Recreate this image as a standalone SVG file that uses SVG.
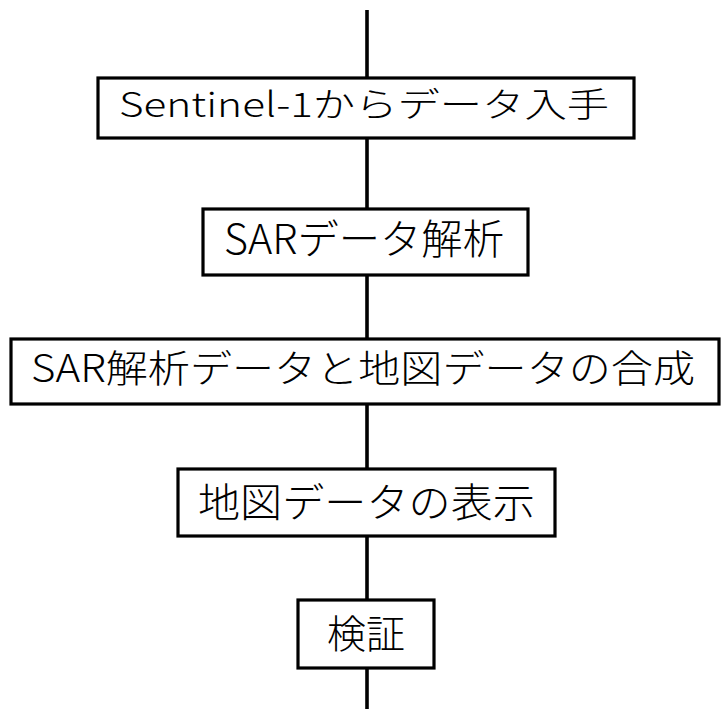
<svg xmlns="http://www.w3.org/2000/svg" width="722" height="709" viewBox="0 0 722 709">
<style>
.box{fill:#fff;stroke:#000;stroke-width:3.2}
.ln{stroke:#000;stroke-width:3.6;fill:none}
text{font-family:"Noto Sans CJK JP","Noto Sans",sans-serif;font-weight:300;fill:#000;text-anchor:middle}
</style>
<rect width="722" height="709" fill="#fff"/>
<g id="connectors">
<line class="ln" x1="367" y1="10" x2="367" y2="78"/>
<line class="ln" x1="367" y1="138" x2="367" y2="209"/>
<line class="ln" x1="367" y1="275" x2="367" y2="339"/>
<line class="ln" x1="367" y1="404" x2="367" y2="469"/>
<line class="ln" x1="367" y1="536" x2="367" y2="600"/>
<line class="ln" x1="367" y1="668" x2="367" y2="709"/>
</g>
<g id="n1"><rect class="box" x="98" y="78" width="536" height="60"/><text x="364" y="117" font-size="34" textLength="490" lengthAdjust="spacingAndGlyphs">Sentinel-1からデータ入手</text></g>
<g id="n2"><rect class="box" x="203" y="209" width="325" height="66"/><text x="364" y="254" font-size="41" textLength="280" lengthAdjust="spacingAndGlyphs">SARデータ解析</text></g>
<g id="n3"><rect class="box" x="11" y="339" width="708" height="65"/><text x="363" y="382" font-size="38" textLength="664" lengthAdjust="spacingAndGlyphs">SAR解析データと地図データの合成</text></g>
<g id="n4"><rect class="box" x="178" y="469" width="377" height="67"/><text x="366.5" y="517" font-size="40" textLength="337" lengthAdjust="spacingAndGlyphs">地図データの表示</text></g>
<g id="n5"><rect class="box" x="298" y="600" width="136" height="68"/><text x="366" y="648" font-size="39" textLength="78" lengthAdjust="spacingAndGlyphs">検証</text></g>
</svg>
